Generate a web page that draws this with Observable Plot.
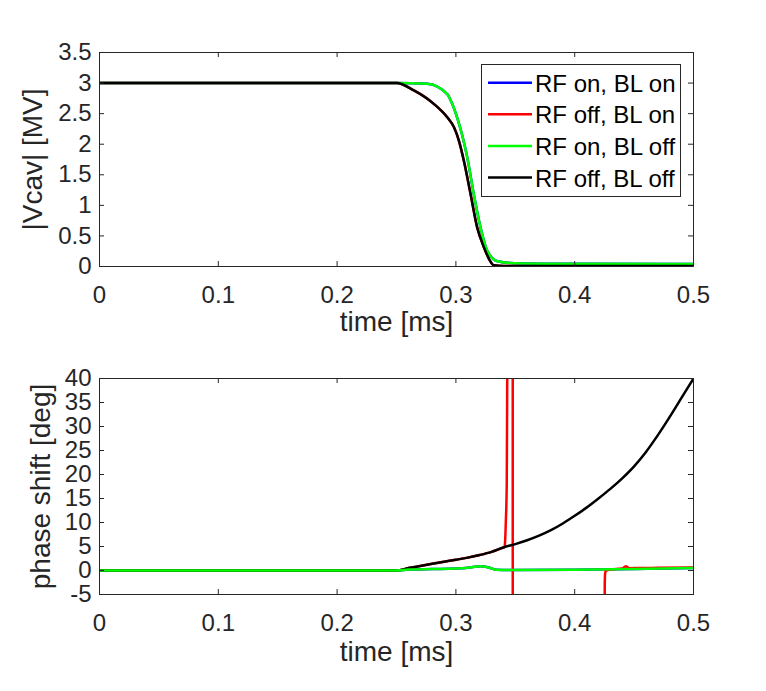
<!DOCTYPE html>
<html>
<head>
<meta charset="utf-8">
<script src="https://cdn.jsdelivr.net/npm/d3@7"></script>
<script src="https://cdn.jsdelivr.net/npm/@observablehq/plot@0.6"></script>
<style>
  html, body { margin: 0; padding: 0; background: #fff; }
  #fig { width: 766px; height: 691px; position: relative; background: #fff; }
  #fig svg { display: block; }
</style>
</head>
<body>
<div id="fig"></div>
<script>
// ---------- data ----------
const seriesNames = ["RF on, BL on", "RF off, BL on", "RF on, BL off", "RF off, BL off"];
const seriesColors = ["#0000ff", "#ff0000", "#00ff00", "#000000"];

const xTicks = [0, 0.1, 0.2, 0.3, 0.4, 0.5];
const vTicks = [0, 0.5, 1, 1.5, 2, 2.5, 3, 3.5];
const pTicks = [-5, 0, 5, 10, 15, 20, 25, 30, 35, 40];

// |Vcav| [MV]
const vT_offOff = [0, 0.25, 0.2646, 0.2814, 0.2927, 0.2983, 0.3025, 0.3067, 0.3123, 0.3179, 0.3235, 0.3277, 0.3319, 0.34, 0.5];
const vV_offOff = [3, 3, 2.88, 2.66, 2.44, 2.28, 2.06, 1.73, 1.19, 0.64, 0.32, 0.13, 0.02, 0.01, 0.01];
const vT_onOff = [0, 0.25, 0.2758, 0.2927, 0.2969, 0.301, 0.3095, 0.315, 0.3207, 0.3263, 0.335, 0.349, 0.4, 0.5];
const vV_onOff = [3, 3, 2.99, 2.82, 2.66, 2.44, 1.79, 1.19, 0.64, 0.26, 0.087, 0.055, 0.045, 0.04];
const vT_onOn = vT_onOff, vV_onOn = vV_onOff;
const vT_offOn = vT_offOff, vV_offOn = vV_offOff;

// phase shift [deg]
const pT_offOff = [0, 0.25, 0.26, 0.27, 0.28, 0.29, 0.30, 0.31, 0.32, 0.33, 0.34, 0.35, 0.36, 0.37, 0.38, 0.39, 0.40, 0.41, 0.42, 0.43, 0.44, 0.45, 0.46, 0.47, 0.48, 0.49, 0.5];
const pV_offOff = [0, 0, 0.5, 0.95, 1.4, 1.83, 2.24, 2.68, 3.22, 3.88, 4.8, 5.5, 6.3, 7.25, 8.4, 9.8, 11.4, 13.1, 15.0, 17.0, 19.2, 21.7, 24.7, 28.2, 32.0, 36.0, 40];
const pT_offOn = [0, 0.25, 0.26, 0.27, 0.28, 0.29, 0.30, 0.31, 0.32, 0.33, 0.34, 0.3410, 0.3414, 0.3420, 0.3428, 0.3432, 0.3440, 0.3460, 0.3478, 0.3479, 0.38, 0.42, 0.4250, 0.4253, 0.4256, 0.4262, 0.43, 0.44, 0.443, 0.446, 0.45, 0.47, 0.5];
const pV_offOn = [0, 0, 0.5, 0.95, 1.4, 1.83, 2.24, 2.68, 3.22, 3.88, 4.8, 4.9, 6, 10, 18, 40, 100, 160, 179, -179, -120, -40, -20, -3, -0.6, -0.1, 0.2, 0.4, 0.9, 0.45, 0.5, 0.55, 0.6];
const pT_onOff = [0, 0.25, 0.26, 0.28, 0.30, 0.31, 0.3207, 0.325, 0.33, 0.3336, 0.35, 0.40, 0.45, 0.5];
const pV_onOff = [0, 0, 0.2, 0.3, 0.4, 0.55, 0.9, 0.8, 0.45, 0.15, 0.1, 0.15, 0.3, 0.5];
const pT_onOn = pT_onOff, pV_onOn = pV_onOff;

// ---------- build tables ----------
const toRows = (ts, vs) => ts.map((t, i) => ({t, v: vs[i]}));
const vSeries = [toRows(vT_onOn, vV_onOn), toRows(vT_offOn, vV_offOn), toRows(vT_onOff, vV_onOff), toRows(vT_offOff, vV_offOff)];
const pSeries = [toRows(pT_onOn, pV_onOn), toRows(pT_offOn, pV_offOn), toRows(pT_onOff, pV_onOff), toRows(pT_offOff, pV_offOff)];

const AX = "#262626";
const FONT = "'Liberation Sans', Arial, Helvetica, sans-serif";

function panel({height, marginTop, marginBottom, yDomain, yTicks, ylabel, ylabelDx, xlabelDy, series, order}) {
  const fh = height - marginTop - marginBottom;
  const fw = 766 - 99 - 73;
  const lines = order.map(i => Plot.line(series[i], {
    x: "t", y: "v", stroke: seriesColors[i], strokeWidth: 2.5, curve: "monotone-x", clip: true
  }));
  return Plot.plot({
    width: 766, height, marginLeft: 99, marginRight: 73, marginTop, marginBottom,
    style: {fontFamily: FONT, fontSize: "24px", color: AX, background: "#fff", overflow: "visible"},
    x: {domain: [0, 0.5]},
    y: {domain: yDomain},
    marks: [
      ...lines,
      Plot.tickX(xTicks, {x: d => d, stroke: AX, insetTop: fh - 5}),
      Plot.tickX(xTicks, {x: d => d, stroke: AX, insetBottom: fh - 5}),
      Plot.tickY(yTicks, {y: d => d, stroke: AX, insetRight: fw - 5}),
      Plot.tickY(yTicks, {y: d => d, stroke: AX, insetLeft: fw - 5}),
      Plot.frame({stroke: AX, strokeWidth: 1}),
      Plot.axisX(xTicks, {tickSize: 0, tickPadding: 19, fontSize: 24, fill: AX, label: null, tickFormat: d => String(d),
        style: "letter-spacing:0.8px"}),
      Plot.axisY(yTicks, {tickSize: 0, tickPadding: 8, fontSize: 24, fill: AX, label: null, tickFormat: d => String(d)}),
      Plot.text(["time [ms]"], {text: d => d, frameAnchor: "bottom", textAnchor: "middle", dy: xlabelDy, fontSize: 28, fill: AX,
        style: "letter-spacing:0.3px"}),
      Plot.text([ylabel], {text: d => d, frameAnchor: "left", textAnchor: "middle", dx: ylabelDx, rotate: -90, fontSize: 28, fill: AX,
        style: "letter-spacing:0.3px"})
    ]
  });
}

const topPanel = panel({height: 320, marginTop: 52, marginBottom: 54, yDomain: [0, 3.5], yTicks: vTicks,
  ylabel: "|Vcav| [MV]", ylabelDx: -66, xlabelDy: 64, series: vSeries, order: [0, 1, 2, 3]});
const bottomPanel = panel({height: 371, marginTop: 58, marginBottom: 97, yDomain: [-5, 40], yTicks: pTicks,
  ylabel: "phase shift [deg]", ylabelDx: -58, xlabelDy: 66, series: pSeries, order: [0, 1, 3, 2]});

// legend in the top panel
const svgTop = d3.select(topPanel);
const lg = svgTop.append("g").attr("font-family", FONT).attr("font-size", 24).attr("text-anchor", "start");
lg.append("rect").attr("x", 481.5).attr("y", 64.5).attr("width", 199).attr("height", 132)
  .attr("fill", "#fff").attr("stroke", AX).attr("stroke-width", 1);
seriesNames.forEach((name, i) => {
  const cy = 82.7 + 31.6 * i;
  lg.append("line").attr("x1", 488).attr("x2", 532).attr("y1", cy).attr("y2", cy)
    .attr("stroke", seriesColors[i]).attr("stroke-width", 2.5);
  lg.append("text").attr("x", 535).attr("y", cy + 9).attr("fill", "#000").attr("text-anchor", "start").text(name);
});

const fig = document.getElementById("fig");
fig.appendChild(topPanel);
fig.appendChild(bottomPanel);
</script>
</body>
</html>
